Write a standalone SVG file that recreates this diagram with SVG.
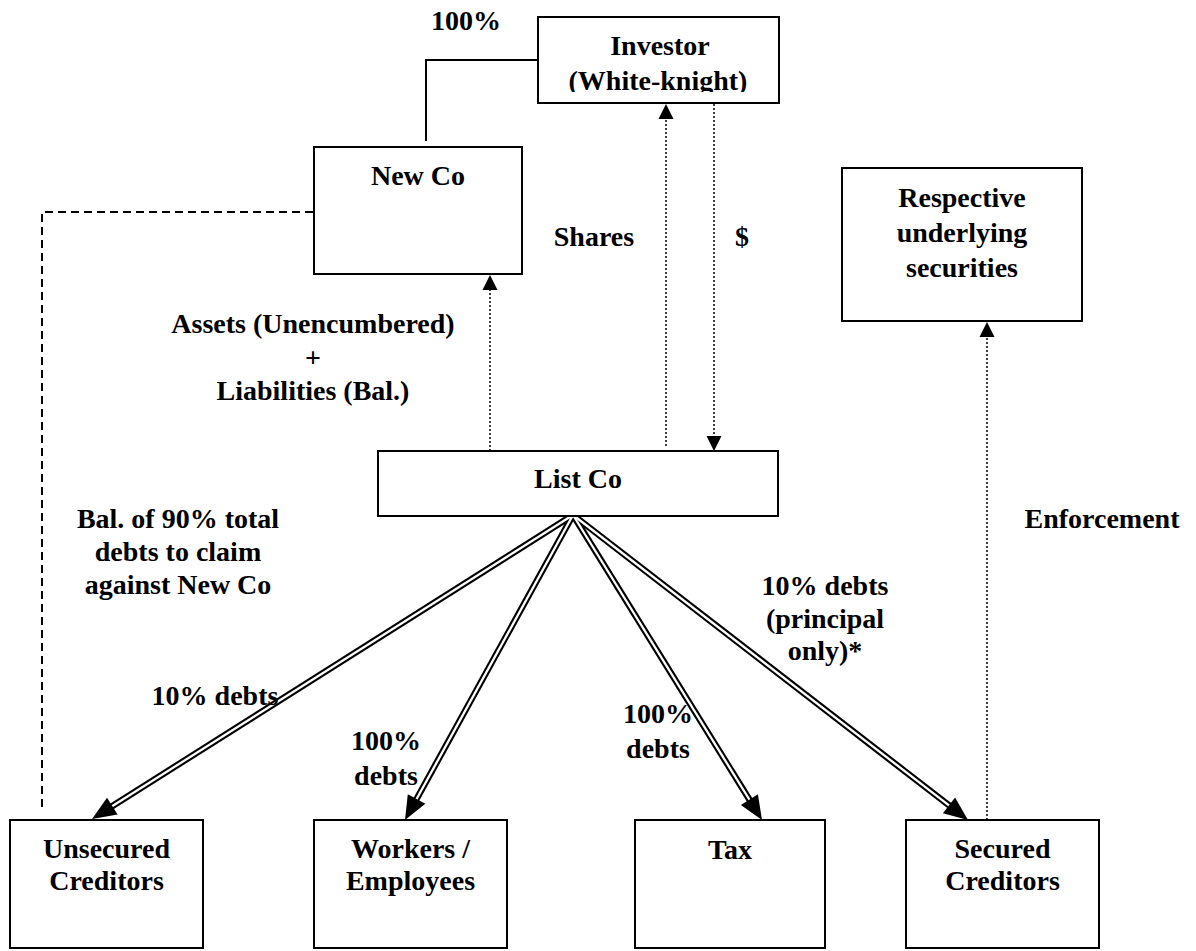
<svg xmlns="http://www.w3.org/2000/svg" width="1196" height="951" viewBox="0 0 1196 951">
<style>
text{font-family:"Liberation Serif","Times New Roman",serif;font-weight:bold;font-size:28px;fill:#000;text-anchor:middle}
.box{fill:#fff;stroke:#000;stroke-width:2}
.solid{fill:none;stroke:#000;stroke-width:2}
.dash{fill:none;stroke:#000;stroke-width:2;stroke-dasharray:8,5}
.dot{fill:none;stroke:#000;stroke-width:1.5;stroke-dasharray:2,2}
.dblo{stroke:#000;stroke-width:6.5;stroke-linecap:butt}
.dbli{stroke:#fff;stroke-width:2.3;stroke-linecap:butt}
.head{fill:#000;stroke:none}
</style>
<defs>
<clipPath id="invclip"><rect x="538" y="17" width="241" height="75"/></clipPath>
</defs>
<rect width="1196" height="951" fill="#fff"/>

<g id="connectors">
<polyline class="solid" points="538,60 426,60 426,141"/>
<polyline class="dash" points="313,212 42,212 42,808"/>
<line class="dot" x1="490" y1="451" x2="490" y2="289"/>
<polygon class="head" points="490,275 482.5,290 497.5,290"/>
<line class="dot" x1="666" y1="446" x2="666" y2="118"/>
<polygon class="head" points="666,104 658.5,119 673.5,119"/>
<line class="dot" x1="714" y1="104" x2="714" y2="437"/>
<polygon class="head" points="714,451 706.5,436 721.5,436"/>
<line class="dot" x1="987" y1="820" x2="987" y2="336"/>
<polygon class="head" points="987,322 979.5,337 994.5,337"/>
<line class="dblo" x1="573" y1="515" x2="108.9" y2="808.3"/>
<line class="dblo" x1="573" y1="515" x2="414.65" y2="802.5"/>
<line class="dblo" x1="573" y1="515" x2="751.5" y2="803"/>
<line class="dblo" x1="573" y1="515" x2="952.2" y2="807.8"/>
<line class="dbli" x1="573" y1="515" x2="108.9" y2="808.3"/>
<line class="dbli" x1="573" y1="515" x2="414.65" y2="802.5"/>
<line class="dbli" x1="573" y1="515" x2="751.5" y2="803"/>
<line class="dbli" x1="573" y1="515" x2="952.2" y2="807.8"/>
<polygon class="head" points="92,819 117.6,814.6 107,797.7"/>
<polygon class="head" points="405,820 425.3,803.8 407.8,794.2"/>
<polygon class="head" points="762,820 757.9,794.3 740.9,804.9"/>
<polygon class="head" points="968,820 955.1,797.4 942.9,813.2"/>
</g>

<g id="labels">
<text x="466" y="30">100%</text>
<text x="594" y="246">Shares</text>
<text x="742" y="246">$</text>
<text x="313" y="333">Assets (Unencumbered)</text>
<text x="313" y="366.5">+</text>
<text x="313" y="400">Liabilities (Bal.)</text>
<text x="178" y="528">Bal. of 90% total</text>
<text x="178" y="561">debts to claim</text>
<text x="178" y="594">against New Co</text>
<text x="1102" y="528">Enforcement</text>
<text x="825" y="595">10% debts</text>
<text x="825" y="628">(principal</text>
<text x="825" y="660">only)*</text>
<text x="215" y="705">10% debts</text>
<text x="386" y="750">100%</text>
<text x="386" y="785">debts</text>
<text x="658" y="723">100%</text>
<text x="658" y="758">debts</text>
</g>

<g id="investor">
<rect class="box" x="538" y="17" width="241" height="86"/>
<g clip-path="url(#invclip)">
<text x="660" y="55">Investor</text>
<text x="658" y="90">(White-knight)</text>
</g>
</g>

<g id="newco">
<rect class="box" x="314" y="147" width="208" height="127"/>
<text x="418" y="185">New Co</text>
</g>

<g id="respective">
<rect class="box" x="842" y="168" width="240" height="153"/>
<text x="962" y="207">Respective</text>
<text x="962" y="242">underlying</text>
<text x="962" y="277">securities</text>
</g>

<g id="listco">
<rect class="box" x="378" y="451" width="400" height="65"/>
<text x="578" y="488">List Co</text>
</g>

<g id="unsecured">
<rect class="box" x="10" y="820" width="193" height="128"/>
<text x="106.5" y="858">Unsecured</text>
<text x="106.5" y="890">Creditors</text>
</g>

<g id="workers">
<rect class="box" x="314" y="820" width="193" height="128"/>
<text x="410.5" y="858">Workers /</text>
<text x="410.5" y="890">Employees</text>
</g>

<g id="tax">
<rect class="box" x="635" y="820" width="190" height="128"/>
<text x="730" y="859">Tax</text>
</g>

<g id="secured">
<rect class="box" x="906" y="820" width="193" height="128"/>
<text x="1002.5" y="858">Secured</text>
<text x="1002.5" y="890">Creditors</text>
</g>
</svg>
